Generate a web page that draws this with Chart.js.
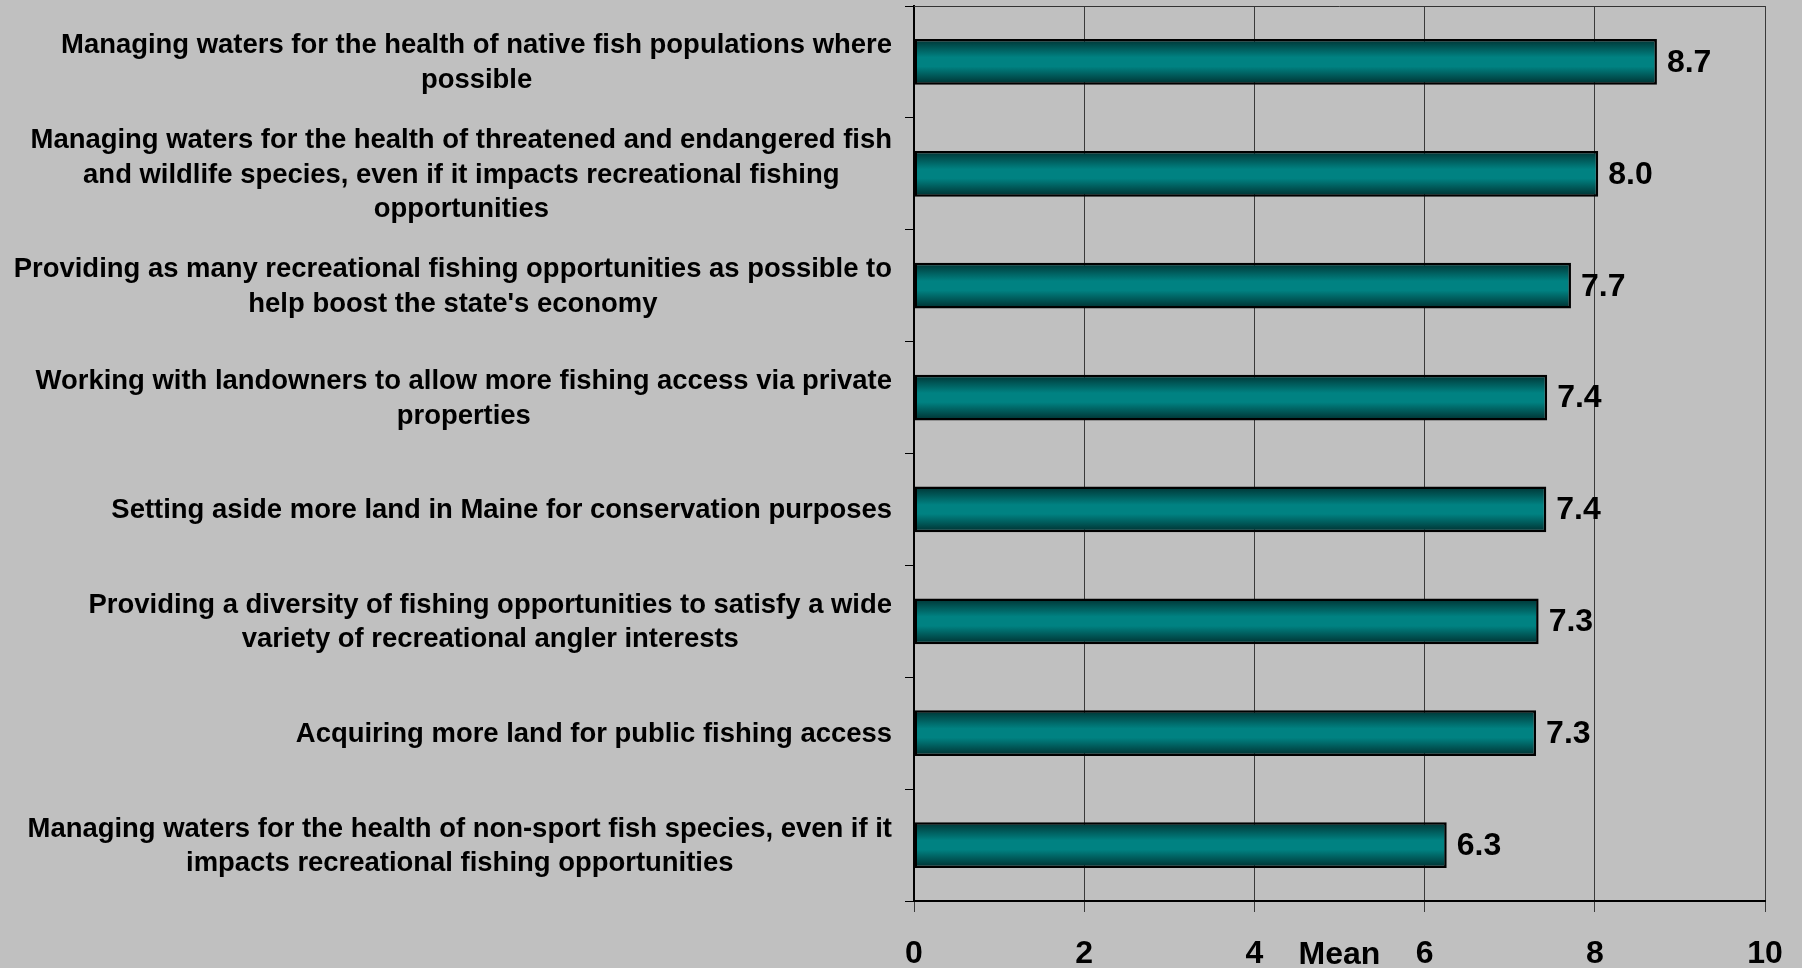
<!DOCTYPE html>
<html>
<head>
<meta charset="utf-8">
<script src="https://cdn.jsdelivr.net/npm/chart.js@4.4.1/dist/chart.umd.min.js"></script>
<style>
  html, body { margin: 0; padding: 0; background: #C0C0C0; }
  #wrap { width: 1802px; height: 968px; position: relative; }
</style>
</head>
<body>
<div id="wrap"><canvas id="c" width="1802" height="968"></canvas></div>
<script>
// ---- data ----
const categories = [
  ["Managing waters for the health of native fish populations where", "possible"],
  ["Managing waters for the health of threatened and endangered fish", "and wildlife species, even if it impacts recreational fishing", "opportunities"],
  ["Providing as many recreational fishing opportunities as possible to", "help boost the state's economy"],
  ["Working with landowners to allow more fishing access via private", "properties"],
  ["Setting aside more land in Maine for conservation purposes"],
  ["Providing a diversity of fishing opportunities to satisfy a wide", "variety of recreational angler interests"],
  ["Acquiring more land for public fishing access"],
  ["Managing waters for the health of non-sport fish species, even if it", "impacts recreational fishing opportunities"]
];
const meanValues = [8.73, 8.04, 7.72, 7.44, 7.43, 7.34, 7.31, 6.26];
const xTickValues = [0, 2, 4, 6, 8, 10];
const axisTitle = "Mean";

const FONT_FAMILY = '"Liberation Sans", Arial, sans-serif';

function barGradient(ctx) {
  const chart = ctx.chart;
  const y = chart.scales && chart.scales.y;
  if (!chart.chartArea || !y || ctx.dataIndex === undefined) return '#008080';
  const c = y.getPixelForValue(ctx.dataIndex);
  const half = (y.height / categories.length) * 0.41 / 2;
  const g = chart.ctx.createLinearGradient(0, c - half, 0, c + half);
  g.addColorStop(0, '#003232');
  g.addColorStop(0.4, '#008282');
  g.addColorStop(0.6, '#008282');
  g.addColorStop(1, '#002e2e');
  return g;
}

const bgPlugin = {
  id: 'bg',
  beforeDraw(chart) {
    const ctx = chart.ctx;
    ctx.save();
    ctx.fillStyle = '#C0C0C0';
    ctx.fillRect(0, 0, chart.width, chart.height);
    ctx.restore();
  }
};

const textPlugin = {
  id: 'texts',
  afterDraw(chart) {
    const ctx = chart.ctx;
    const y = chart.scales.y;
    const x = chart.scales.x;
    const area = chart.chartArea;
    ctx.save();
    // top frame line
    ctx.strokeStyle = '#333333';
    ctx.lineWidth = 1;
    ctx.beginPath();
    ctx.moveTo(area.left, area.top + 0.5);
    ctx.lineTo(area.right, area.top + 0.5);
    ctx.stroke();

    // category labels: block right-aligned, lines centered in block
    const sx = 0.98;
    ctx.fillStyle = '#000';
    ctx.font = 'bold 28px ' + FONT_FAMILY;
    ctx.textBaseline = 'middle';
    ctx.textAlign = 'center';
    const lh = 34.5;
    categories.forEach((lines, i) => {
      const cy = y.getPixelForValue(i);
      const w = Math.max(...lines.map(l => ctx.measureText(l).width)) * sx;
      const cx = y.right - 22 - w / 2;
      const y0 = cy - (lines.length - 1) * lh / 2;
      lines.forEach((l, k) => {
        ctx.save();
        ctx.translate(cx, y0 + k * lh + 1);
        ctx.scale(sx, 1);
        ctx.fillText(l, 0, 0);
        ctx.restore();
      });
    });

    // value labels
    ctx.font = 'bold 32px ' + FONT_FAMILY;
    ctx.textAlign = 'left';
    meanValues.forEach((v, i) => {
      const px = x.getPixelForValue(v);
      const cy = y.getPixelForValue(i);
      ctx.fillText(v.toFixed(1), px + 10, cy + 1);
    });

    // axis title between tick labels
    ctx.font = 'bold 32px ' + FONT_FAMILY;
    ctx.textAlign = 'center';
    ctx.fillText(axisTitle, (area.left + area.right) / 2, 955);
    ctx.restore();
  }
};

new Chart(document.getElementById('c'), {
  type: 'bar',
  data: {
    labels: categories,
    datasets: [{
      data: meanValues,
      backgroundColor: barGradient,
      borderColor: '#000000',
      borderWidth: 2.5,
      borderSkipped: false,
      categoryPercentage: 1,
      barPercentage: 0.41
    }]
  },
  options: {
    indexAxis: 'y',
    responsive: false,
    animation: false,
    events: [],
    layout: { padding: { top: 6, right: 37, left: 0, bottom: 0 } },
    plugins: { legend: { display: false }, tooltip: { enabled: false } },
    scales: {
      x: {
        type: 'linear',
        min: 0, max: 10,
        afterBuildTicks(scale) { scale.ticks = xTickValues.map(v => ({ value: v })); },
        afterFit(scale) { scale.height = 67; scale.paddingLeft = 0; scale.paddingRight = 0; },
        grid: { color: '#3a3a3a', lineWidth: 1, tickLength: 11, drawTicks: true },
        border: { display: true, color: '#000', width: 2 },
        ticks: {
          color: '#000',
          padding: 23,
          font: { family: FONT_FAMILY, size: 32, weight: 'bold' },
          maxRotation: 0
        }
      },
      y: {
        type: 'category',
        afterFit(scale) { scale.width = 914; scale.paddingTop = 0; scale.paddingBottom = 0; },
        grid: { offset: true, drawOnChartArea: false, drawTicks: true, tickLength: 9, color: '#000', lineWidth: 1 },
        border: { display: true, color: '#000', width: 2 },
        ticks: { display: false }
      }
    }
  },
  plugins: [bgPlugin, textPlugin]
});
</script>
</body>
</html>
